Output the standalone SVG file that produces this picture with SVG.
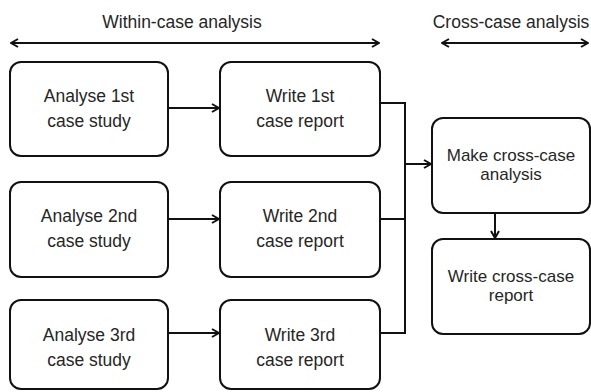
<svg xmlns="http://www.w3.org/2000/svg" width="591" height="392" viewBox="0 0 591 392">
  <defs>
    <marker id="head" viewBox="0 0 10 10" refX="9" refY="5" markerWidth="10" markerHeight="10" markerUnits="userSpaceOnUse" orient="auto-start-reverse">
      <path d="M2,1 L9,5 L2,9" fill="none" stroke="#111" stroke-width="2"/>
    </marker>
    <style>
      .box { fill: #fff; stroke: #111; stroke-width: 2; }
      .line { fill: none; stroke: #111; stroke-width: 2; }
      .lbl { font-family: "Liberation Sans", Arial, sans-serif; font-size: 17.5px; fill: #262626; text-anchor: middle; }
      .tight { font-size: 17px; }
    </style>
  </defs>
  <rect width="591" height="392" fill="#fff"/>

  <!-- phase headers -->
  <g id="within-header">
    <text class="lbl" x="182" y="28">Within-case analysis</text>
    <line class="line" x1="11" y1="43" x2="379" y2="43" marker-start="url(#head)" marker-end="url(#head)"/>
  </g>
  <g id="cross-header">
    <text class="lbl" x="511" y="28">Cross-case analysis</text>
    <line class="line" x1="442" y1="43" x2="588" y2="43" marker-start="url(#head)" marker-end="url(#head)"/>
  </g>

  <!-- within-case nodes -->
  <g id="analyse1">
    <rect class="box" x="10" y="62" width="158" height="94" rx="11"/>
    <text class="lbl" x="89" y="102">Analyse 1st</text>
    <text class="lbl" x="89" y="127">case study</text>
  </g>
  <g id="write1">
    <rect class="box" x="220" y="62" width="160" height="94" rx="11"/>
    <text class="lbl" x="300" y="102">Write 1st</text>
    <text class="lbl" x="300" y="127">case report</text>
  </g>
  <g id="analyse2">
    <rect class="box" x="10" y="182" width="158" height="95" rx="11"/>
    <text class="lbl" x="89" y="222">Analyse 2nd</text>
    <text class="lbl" x="89" y="247">case study</text>
  </g>
  <g id="write2">
    <rect class="box" x="220" y="182" width="160" height="95" rx="11"/>
    <text class="lbl" x="300" y="222">Write 2nd</text>
    <text class="lbl" x="300" y="247">case report</text>
  </g>
  <g id="analyse3">
    <rect class="box" x="10" y="300" width="158" height="89" rx="11"/>
    <text class="lbl" x="89" y="341">Analyse 3rd</text>
    <text class="lbl" x="89" y="366">case study</text>
  </g>
  <g id="write3">
    <rect class="box" x="220" y="300" width="160" height="89" rx="11"/>
    <text class="lbl" x="300" y="341">Write 3rd</text>
    <text class="lbl" x="300" y="366">case report</text>
  </g>

  <!-- cross-case nodes -->
  <g id="cross-analysis">
    <rect class="box" x="432" y="118" width="158" height="95" rx="11"/>
    <text class="lbl tight" x="511" y="161">Make cross-case</text>
    <text class="lbl tight" x="511" y="180">analysis</text>
  </g>
  <g id="cross-report">
    <rect class="box" x="432" y="239" width="158" height="95" rx="11"/>
    <text class="lbl tight" x="511" y="282">Write cross-case</text>
    <text class="lbl tight" x="511" y="301">report</text>
  </g>

  <!-- connectors -->
  <g id="connectors">
    <line class="line" x1="168" y1="108" x2="219" y2="108" marker-end="url(#head)"/>
    <line class="line" x1="168" y1="219" x2="219" y2="219" marker-end="url(#head)"/>
    <line class="line" x1="168" y1="333" x2="219" y2="333" marker-end="url(#head)"/>
    <polyline class="line" points="380,103 405,103 405,333 380,333"/>
    <line class="line" x1="380" y1="219" x2="405" y2="219"/>
    <line class="line" x1="405" y1="164" x2="431" y2="164" marker-end="url(#head)"/>
    <line class="line" x1="495" y1="213" x2="495" y2="238" marker-end="url(#head)"/>
  </g>
</svg>
